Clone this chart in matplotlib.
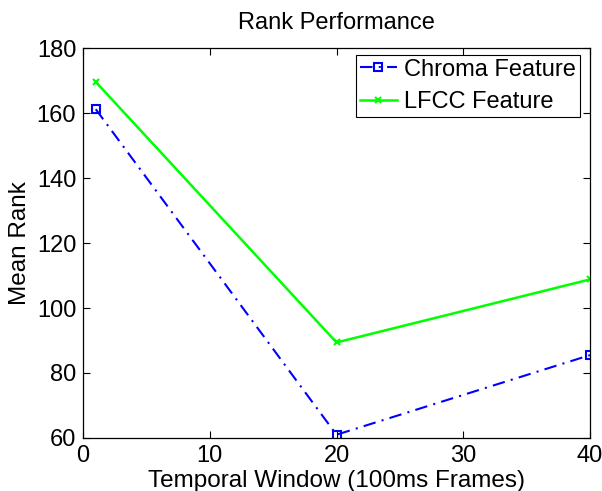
import matplotlib
matplotlib.use("Agg")
import matplotlib.pyplot as plt

x = [1, 20, 40]
chroma = [161.2, 61, 85.5]
lfcc = [169.6, 89.4, 108.8]
xticks = [0, 10, 20, 30, 40]
yticks = [60, 80, 100, 120, 140, 160, 180]

plt.rcParams['font.family'] = ['Liberation Sans', 'DejaVu Sans']

fig = plt.figure(figsize=(6.02, 4.91), dpi=100)
ax = fig.add_axes([0.138, 0.108, 0.842, 0.794])
ax.plot(x, chroma, color='#0000ff', linestyle=(0, (6, 3, 1, 3)), marker='s', markersize=6,
        markerfacecolor='none', markeredgewidth=1.5, linewidth=1.5, label='Chroma Feature')
ax.plot(x, lfcc, color='#00ff00', linestyle='-', marker='x', markersize=4,
        markeredgewidth=1.5, linewidth=1.8, label='LFCC Feature')
ax.set_xlim(0, 40)
ax.set_ylim(60, 180)
ax.set_xticks(xticks)
ax.set_yticks(yticks)
ax.tick_params(direction='in', top=True, right=True, labelsize=17, length=5, width=0.8, pad=5)
for s in ax.spines.values():
    s.set_linewidth(0.9)
ax.set_title('Rank Performance', fontsize=17, pad=14)
ax.set_xlabel('Temporal Window (100ms Frames)', fontsize=17.5, labelpad=2)
ax.set_ylabel('Mean Rank', fontsize=17.5, labelpad=4)
leg = ax.legend(loc='upper right', bbox_to_anchor=(0.994, 1.0), fontsize=17, frameon=True,
                fancybox=False, edgecolor='black', framealpha=1, borderpad=0.15,
                labelspacing=0.45, handlelength=1.6, handletextpad=0.3, borderaxespad=0.3)
leg.get_frame().set_linewidth(0.8)
fig.savefig('out.png', dpi=100)
